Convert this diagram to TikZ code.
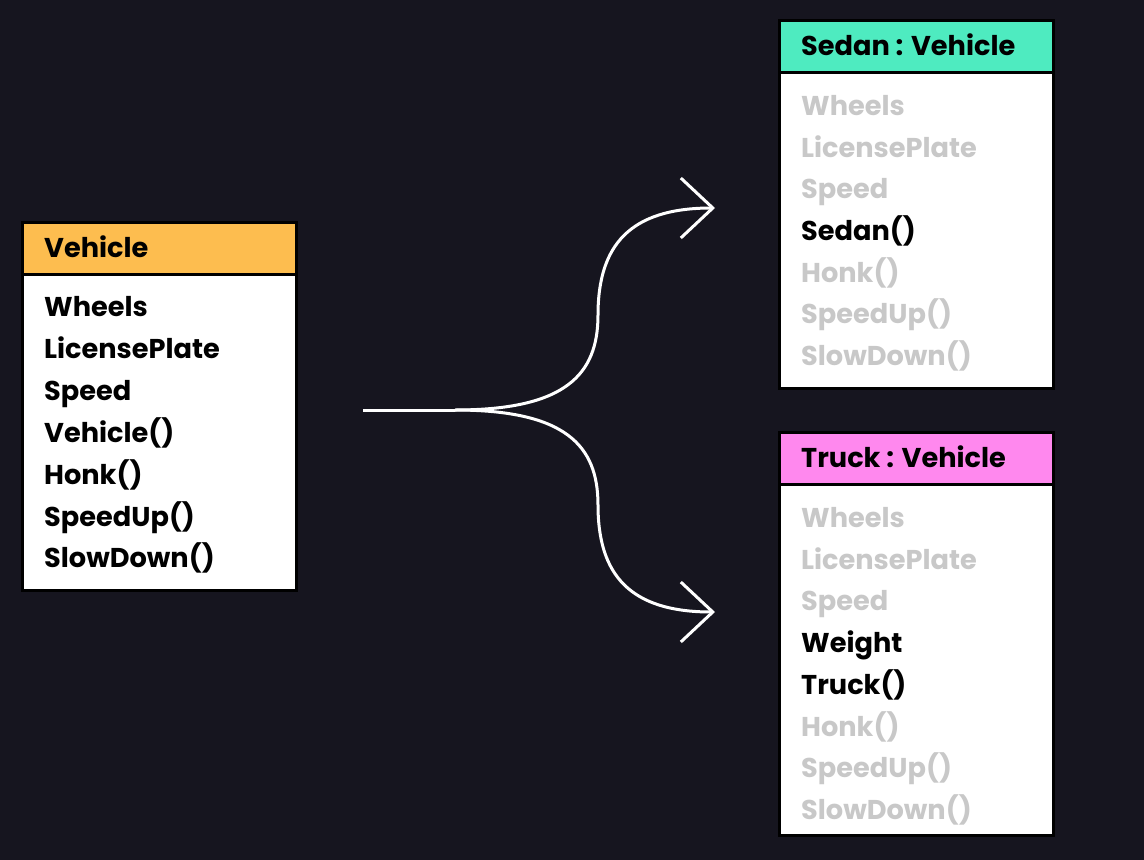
\documentclass[tikz,border=0pt]{standalone}
\usepackage{fontspec}
\setmainfont{Poppins}
\usetikzlibrary{arrows.meta}
\definecolor{bg}{HTML}{16151F}
\definecolor{vehc}{HTML}{FDBD4F}
\definecolor{sedc}{HTML}{4EEBC0}
\definecolor{truc}{HTML}{FF88EE}
\definecolor{inh}{HTML}{C8C8C8}
\begin{document}
\begin{tikzpicture}[x=1pt,y=-1pt,
  box/.style={draw=black, line width=3pt, fill=white, rectangle, inner sep=0pt},
  head/.style={draw=black, line width=3pt, rectangle, inner sep=0pt, minimum width=274pt, minimum height=52pt, anchor=north west},
  lbl/.style={anchor=base west, inner sep=0pt, font=\fontsize{27.2}{30}\selectfont\bfseries},
  own/.style={lbl, text=black},
  inher/.style={lbl, text=inh},
  conn/.style={draw=white, line width=3pt},
  tip/.style={-{Straight Barb[length=32pt, width=60pt, line width=3pt]}}
]
\fill[bg] (0,0) rectangle (1144,860);
\useasboundingbox (0,0) rectangle (1144,860);

% Vehicle
\node[box, minimum width=274pt, minimum height=368pt] (vehicle) at (159.5,406.5) {};
\node[head, fill=vehc] (vhead) at (vehicle.north west) {};
\node[own] (vt) at (44,257.5) {Vehicle};
\node[own] (v1) at (44,316.5) {Wheels};
\node[own] (v2) at (44,358.5) {LicensePlate};
\node[own] (v3) at (44,400.5) {Speed};
\node[own] (v4) at (44,442.5) {Vehicle()};
\node[own] (v5) at (44,484.5) {Honk()};
\node[own] (v6) at (44,526.5) {SpeedUp()};
\node[own] (v7) at (44,567.5) {SlowDown()};

% Sedan
\node[box, minimum width=274pt, minimum height=368pt] (sedan) at (916.5,204.5) {};
\node[head, fill=sedc] (shead) at (sedan.north west) {};
\node[own] (st) at (801,55.5) {Sedan : Vehicle};
\node[inher] (s1) at (801,115.5) {Wheels};
\node[inher] (s2) at (801,157.5) {LicensePlate};
\node[inher] (s3) at (801,198.5) {Speed};
\node[own] (s4) at (801,240.5) {Sedan()};
\node[inher] (s5) at (801,282.5) {Honk()};
\node[inher] (s6) at (801,323.5) {SpeedUp()};
\node[inher] (s7) at (801,365.5) {SlowDown()};

% Truck
\node[box, minimum width=274pt, minimum height=403pt] (truck) at (916.5,634) {};
\node[head, fill=truc] (thead) at (truck.north west) {};
\node[own] (tt) at (801,467.5) {Truck : Vehicle};
\node[inher] (t1) at (801,527.5) {Wheels};
\node[inher] (t2) at (801,569.5) {LicensePlate};
\node[inher] (t3) at (801,610.5) {Speed};
\node[own] (t4) at (801,652.5) {Weight};
\node[own] (t5) at (801,694.5) {Truck()};
\node[inher] (t6) at (801,736.5) {Honk()};
\node[inher] (t7) at (801,777.5) {SpeedUp()};
\node[inher] (t8) at (801,819.5) {SlowDown()};

% connectors
\coordinate (start) at (363,410);
\coordinate (split) at (455,410);
\coordinate (endS) at (715,208);
\coordinate (endT) at (715,612);
\draw[conn] (start) -- (split);
\draw[conn, tip] (split) .. controls (565,410) and (598,375) .. (598,315)
  .. controls (598,245) and (630,208) .. (endS);
\draw[conn, tip] (split) .. controls (565,410) and (598,445) .. (598,505)
  .. controls (598,575) and (630,612) .. (endT);
\end{tikzpicture}
\end{document}
